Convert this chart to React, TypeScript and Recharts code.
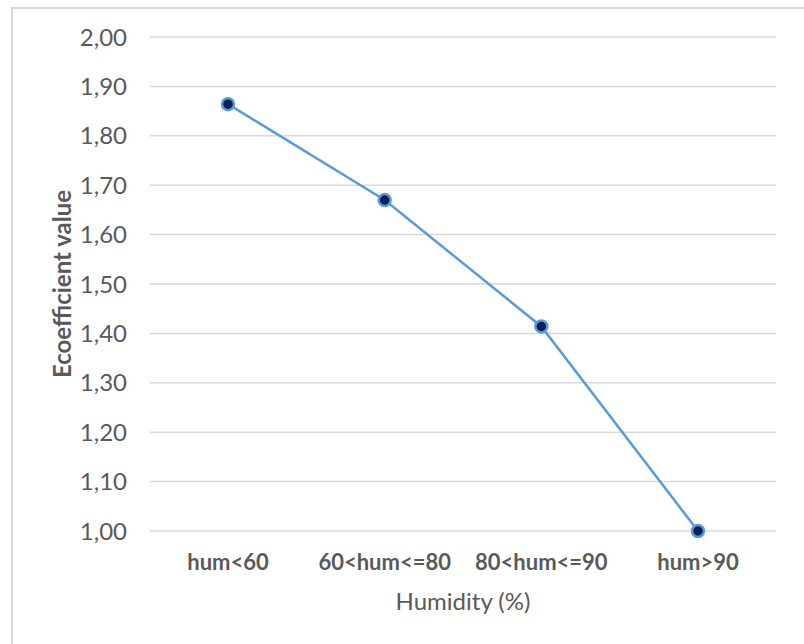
import React from "react"
import { CartesianGrid, Label, Line, LineChart, XAxis, YAxis } from "recharts"

const categories = ["hum<60", "60<hum<=80", "80<hum<=90", "hum>90"]
const coefficients = [1.864, 1.67, 1.414, 1.0]
const yTicks = [1.0, 1.1, 1.2, 1.3, 1.4, 1.5, 1.6, 1.7, 1.8, 1.9, 2.0]

const data = categories.map((name, i) => ({ name, value: coefficients[i] }))

const textColor = "#595959"
const fontFamily = "Lato, 'Open Sans', sans-serif"

export default function App() {
  return (
    <div style={{ position: "absolute", left: 0, top: 0, width: 804, height: 644, background: "#fff", fontFamily }}>
      {/* chart frame, cropped on the right and bottom */}
      <div
        style={{
          position: "absolute",
          left: 11,
          top: 7,
          width: 793,
          height: 637,
          borderLeft: "2px solid #d9d9d9",
          borderTop: "2px solid #d9d9d9",
          boxSizing: "border-box",
        }}
      />
      <div style={{ position: "absolute", left: 0, top: 0 }}>
        <LineChart width={804} height={644} data={data} margin={{ top: 37, right: 28, bottom: 0, left: 0 }}>
          <CartesianGrid vertical={false} stroke="#d9d9d9" strokeWidth={1.5} />
          <XAxis
            dataKey="name"
            height={113}
            axisLine={false}
            tickLine={false}
            tickMargin={17}
            padding={{ left: 78, right: 78 }}
            tick={{ fill: textColor, fontSize: 22, fontWeight: 700, fontFamily }}
          >
            <Label value="Humidity (%)" position="center" dy={14} fill={textColor} fontSize={24} fontFamily={fontFamily} />
          </XAxis>
          <YAxis
            width={150}
            domain={[1, 2]}
            ticks={yTicks}
            axisLine={false}
            tickLine={false}
            tickMargin={17}
            tickFormatter={(v: number) => v.toFixed(2).replace(".", ",")}
            tick={{ fill: textColor, fontSize: 24, fontFamily }}
          >
            <Label
              value="Ecoefficient value"
              position="center"
              angle={-90}
              dx={-13}
              fill={textColor}
              fontSize={24}
              fontWeight={700}
              fontFamily={fontFamily}
            />
          </YAxis>
          <Line
            type="linear"
            dataKey="value"
            stroke="#5b9bd5"
            strokeWidth={2.5}
            dot={{ r: 6, fill: "#0b1f5c", stroke: "#5b9bd5", strokeWidth: 2.5 }}
            isAnimationActive={false}
          />
        </LineChart>
      </div>
    </div>
  )
}
